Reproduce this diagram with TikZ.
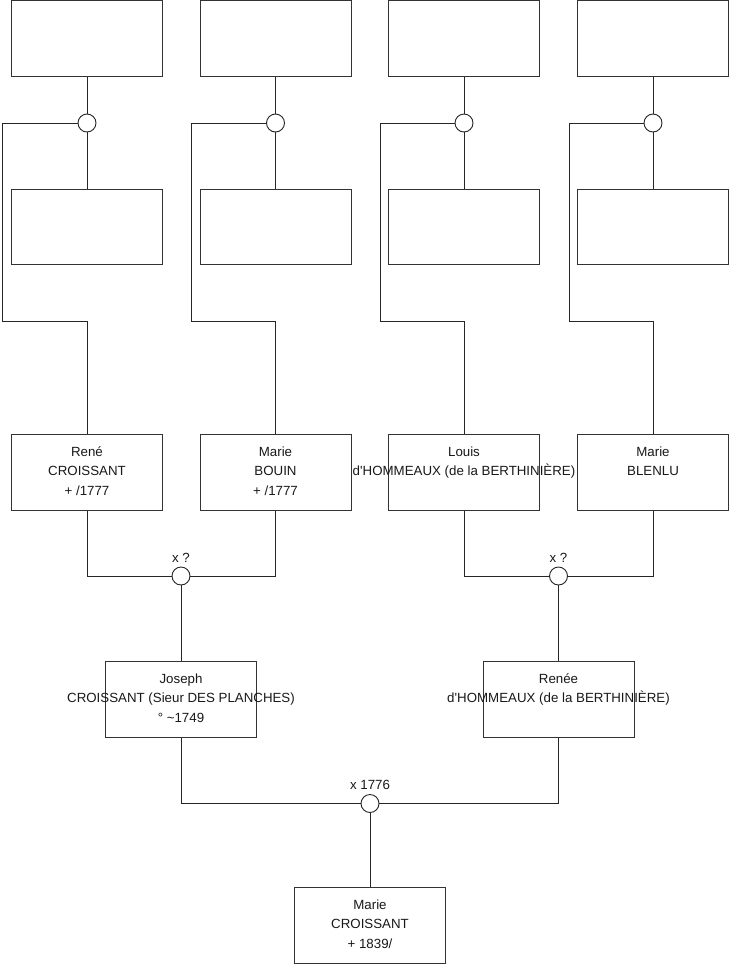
\documentclass[tikz,border=0pt]{standalone}
\usepackage{fontspec}
\setmainfont{Liberation Sans}
\newcommand\mydeep{\rule[-3pt]{0pt}{0pt}}
\begin{document}
\begin{tikzpicture}[x=1pt,y=-1pt,
  box/.style={draw=black!80, line width=1pt, fill=white, minimum width=151pt, minimum height=75.5pt, inner sep=0pt, align=center, font=\fontsize{13.3}{19.8}\selectfont, text=black!90},
  joint/.style={draw=black!85, line width=0.9pt, circle, fill=white, minimum size=18pt, inner sep=0pt},
  conn/.style={draw=black!85, line width=0.9pt},
  lbl/.style={inner sep=0pt, font=\fontsize{13.3}{15}\selectfont, text=black!90}]
\useasboundingbox (0,0) rectangle (740,975);
% top row (empty)
\node[box] (t1) at (87,38.5) {};
\node[box] (t2) at (275.5,38.5) {};
\node[box] (t3) at (464,38.5) {};
\node[box] (t4) at (653,38.5) {};
% second row (empty)
\node[box] (s1) at (87,227) {};
\node[box] (s2) at (275.5,227) {};
\node[box] (s3) at (464,227) {};
\node[box] (s4) at (653,227) {};
% joints top
\node[joint] (c1) at (87,123) {};
\node[joint] (c2) at (275.5,123) {};
\node[joint] (c3) at (464,123) {};
\node[joint] (c4) at (653,123) {};
% third row
\node[box] (r1) at (87,472.5) {René\\CROISSANT\\+ /1777\mydeep};
\node[box] (r2) at (275.5,472.5) {\vphantom{René}Marie\\BOUIN\\+ /1777\mydeep};
\node[box] (r3) at (464,472.5) {\vphantom{René}Louis\\\makebox[0pt]{d\textquotesingle HOMMEAUX (de la BERTHINIÈRE)}\\\vphantom{+ /1777}\mydeep};
\node[box] (r4) at (653,472.5) {\vphantom{René}Marie\\BLENLU\\\vphantom{+ /1777}\mydeep};
% bend coordinates
\coordinate (b1) at (2,321);
\coordinate (b2) at (191,321);
\coordinate (b3) at (380,321);
\coordinate (b4) at (569,321);
\foreach \i in {1,2,3,4}{
  \draw[conn] (t\i.south) -- (c\i.north);
  \draw[conn] (c\i.south) -- (s\i.north);
  \draw[conn] (c\i.west) -| (b\i) -| (r\i.north);
}
% joints row 3
\node[joint] (j1) at (181,576) {};
\node[joint] (j2) at (558.5,576) {};
\node[lbl] (l1) at (181,558) {x ?};
\node[lbl] (l2) at (558.5,558) {x ?};
\draw[conn] (r1.south) |- (j1.west);
\draw[conn] (r2.south) |- (j1.east);
\draw[conn] (r3.south) |- (j2.west);
\draw[conn] (r4.south) |- (j2.east);
% fourth row
\node[box] (p1) at (181,699.5) {\vphantom{René}Joseph\\\makebox[0pt]{CROISSANT (Sieur DES PLANCHES)}\\° \textasciitilde 1749\mydeep};
\node[box] (p2) at (558.5,699.5) {Renée\\\makebox[0pt]{d\textquotesingle HOMMEAUX (de la BERTHINIÈRE)}\\\vphantom{° \textasciitilde 1749}\mydeep};
\draw[conn] (j1.south) -- (p1.north);
\draw[conn] (j2.south) -- (p2.north);
% bottom joint
\node[joint] (j3) at (370,803.5) {};
\node[lbl] (l3) at (370,785) {x 1776};
\draw[conn] (p1.south) |- (j3.west);
\draw[conn] (p2.south) |- (j3.east);
% bottom box
\node[box] (m) at (370,925.5) {\vphantom{René}Marie\\CROISSANT\\+ 1839/\mydeep};
\draw[conn] (j3.south) -- (m.north);
\end{tikzpicture}
\end{document}
